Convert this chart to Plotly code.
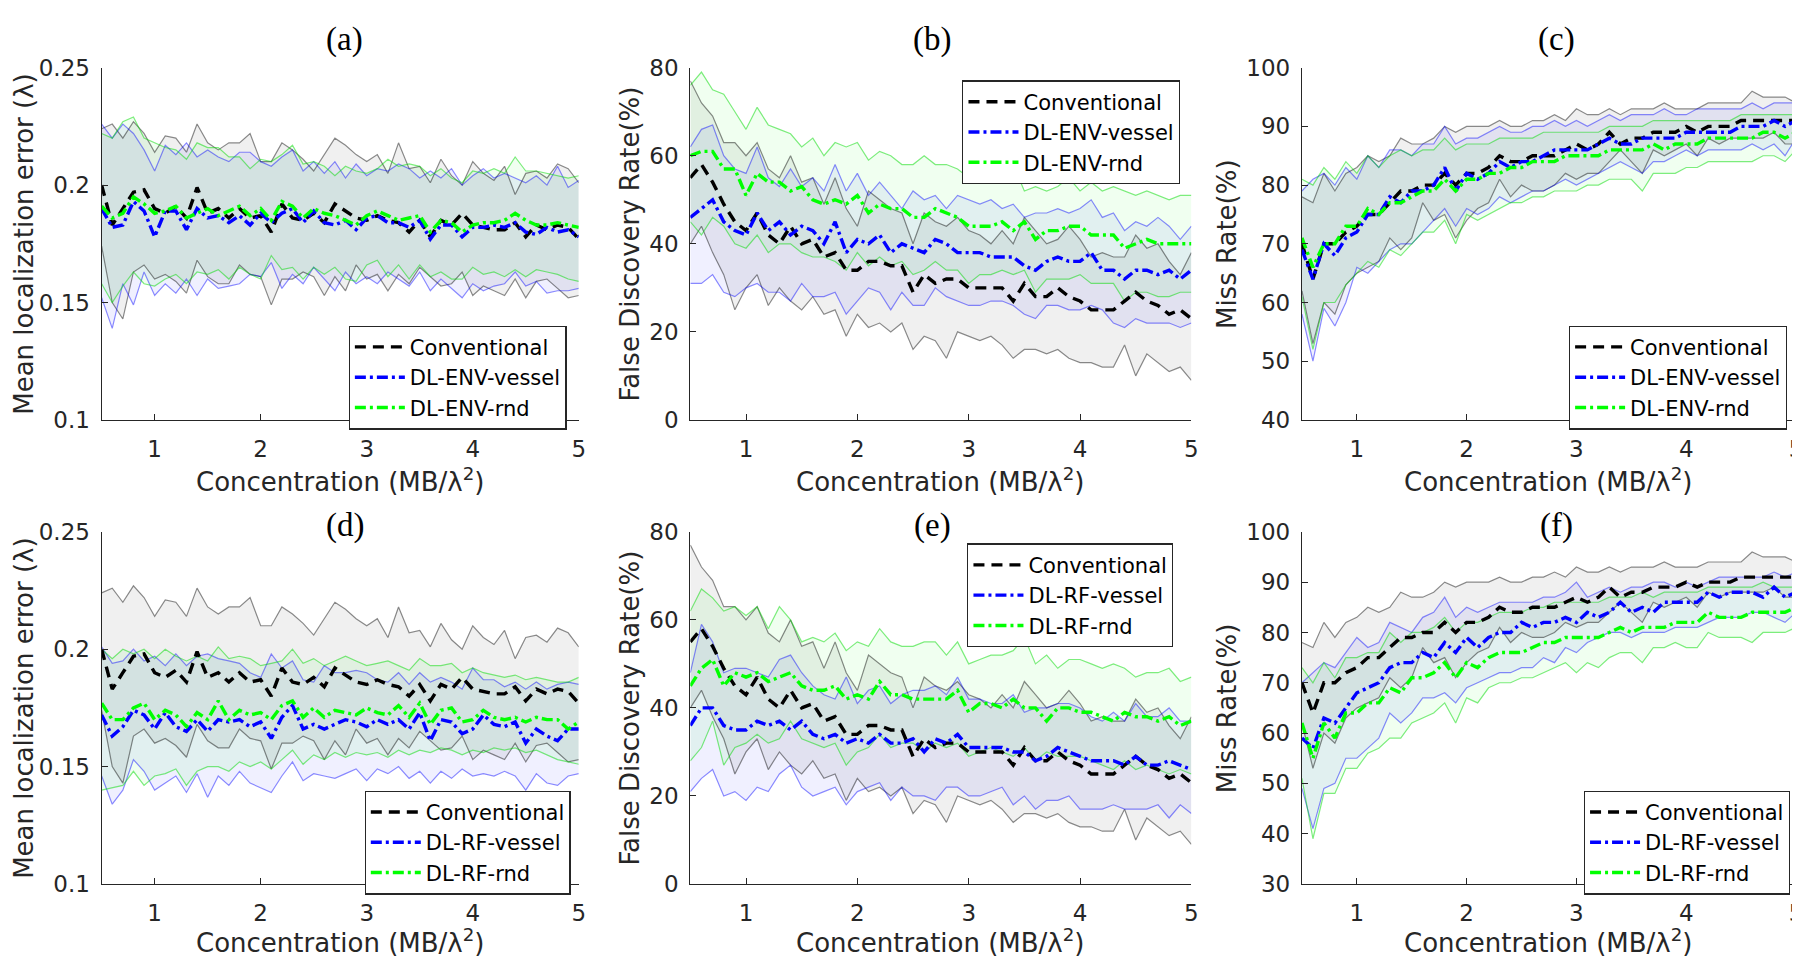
import plotly.graph_objects as go

# ---------------- data ----------------
conc = [0.5, 0.6, 0.7, 0.8, 0.9, 1.0, 1.1, 1.2, 1.3, 1.4,
        1.5, 1.6, 1.7, 1.8, 1.9, 2.0, 2.1, 2.2, 2.3, 2.4,
        2.5, 2.6, 2.7, 2.8, 2.9, 3.0, 3.1, 3.2, 3.3, 3.4,
        3.5, 3.6, 3.7, 3.8, 3.9, 4.0, 4.1, 4.2, 4.3, 4.4,
        4.5, 4.6, 4.7, 4.8, 4.9, 5.0]

# Mean localization error (lambda)
conv_loc_mean = [0.200, 0.183, 0.190, 0.197, 0.198, 0.190, 0.188, 0.191, 0.186, 0.199,
                 0.188, 0.190, 0.186, 0.190, 0.186, 0.187, 0.180, 0.192, 0.186, 0.185,
                 0.188, 0.184, 0.192, 0.189, 0.186, 0.185, 0.187, 0.185, 0.184, 0.180,
                 0.185, 0.178, 0.185, 0.183, 0.188, 0.183, 0.182, 0.181, 0.181, 0.184,
                 0.178, 0.183, 0.181, 0.183, 0.182, 0.177]
conv_loc_hi = [0.224, 0.226, 0.220, 0.227, 0.222, 0.214, 0.221, 0.220, 0.214, 0.226,
               0.218, 0.215, 0.218, 0.218, 0.222, 0.210, 0.210, 0.218, 0.215, 0.211,
               0.206, 0.213, 0.220, 0.217, 0.213, 0.210, 0.213, 0.205, 0.218, 0.207,
               0.208, 0.201, 0.211, 0.204, 0.200, 0.210, 0.205, 0.202, 0.208, 0.196,
               0.205, 0.206, 0.203, 0.209, 0.207, 0.201]
conv_loc_lo = [0.174, 0.150, 0.143, 0.163, 0.166, 0.160, 0.162, 0.159, 0.154, 0.168,
               0.161, 0.158, 0.158, 0.166, 0.162, 0.161, 0.149, 0.160, 0.160, 0.163,
               0.161, 0.153, 0.161, 0.155, 0.166, 0.160, 0.162, 0.155, 0.162, 0.158,
               0.165, 0.161, 0.157, 0.158, 0.163, 0.153, 0.157, 0.155, 0.153, 0.160,
               0.152, 0.159, 0.160, 0.156, 0.152, 0.153]
envv_loc_mean = [0.190, 0.182, 0.183, 0.193, 0.189, 0.178, 0.189, 0.189, 0.181, 0.190,
                 0.186, 0.187, 0.184, 0.187, 0.183, 0.188, 0.184, 0.188, 0.190, 0.184,
                 0.189, 0.184, 0.183, 0.185, 0.181, 0.186, 0.187, 0.184, 0.184, 0.182,
                 0.185, 0.177, 0.183, 0.183, 0.178, 0.182, 0.182, 0.183, 0.182, 0.184,
                 0.180, 0.179, 0.182, 0.180, 0.181, 0.178]
envv_loc_hi = [0.226, 0.220, 0.226, 0.222, 0.215, 0.206, 0.217, 0.213, 0.218, 0.212,
               0.215, 0.212, 0.210, 0.214, 0.214, 0.210, 0.208, 0.212, 0.215, 0.206,
               0.210, 0.205, 0.210, 0.203, 0.209, 0.204, 0.207, 0.206, 0.209, 0.207,
               0.203, 0.206, 0.203, 0.207, 0.200, 0.204, 0.207, 0.203, 0.205, 0.203,
               0.201, 0.204, 0.200, 0.208, 0.199, 0.202]
envv_loc_lo = [0.152, 0.139, 0.158, 0.149, 0.163, 0.153, 0.158, 0.154, 0.160, 0.153,
               0.160, 0.156, 0.157, 0.158, 0.162, 0.161, 0.167, 0.156, 0.162, 0.158,
               0.165, 0.160, 0.155, 0.163, 0.158, 0.161, 0.158, 0.163, 0.160, 0.157,
               0.163, 0.155, 0.160, 0.156, 0.152, 0.158, 0.155, 0.157, 0.158, 0.163,
               0.157, 0.159, 0.154, 0.155, 0.155, 0.156]
envr_loc_mean = [0.191, 0.186, 0.188, 0.195, 0.192, 0.188, 0.189, 0.191, 0.186, 0.188,
                 0.190, 0.187, 0.189, 0.191, 0.187, 0.190, 0.185, 0.193, 0.191, 0.186,
                 0.190, 0.188, 0.187, 0.185, 0.183, 0.187, 0.189, 0.187, 0.185, 0.186,
                 0.187, 0.180, 0.185, 0.184, 0.180, 0.183, 0.184, 0.184, 0.185, 0.188,
                 0.185, 0.183, 0.183, 0.184, 0.183, 0.182]
envr_loc_hi = [0.222, 0.220, 0.227, 0.229, 0.220, 0.218, 0.216, 0.215, 0.211, 0.218,
               0.216, 0.216, 0.212, 0.212, 0.207, 0.211, 0.210, 0.213, 0.217, 0.209,
               0.210, 0.208, 0.204, 0.208, 0.206, 0.205, 0.207, 0.211, 0.208, 0.209,
               0.208, 0.204, 0.207, 0.203, 0.201, 0.206, 0.205, 0.207, 0.205, 0.212,
               0.206, 0.206, 0.205, 0.204, 0.203, 0.204]
envr_loc_lo = [0.158, 0.150, 0.157, 0.163, 0.158, 0.157, 0.160, 0.162, 0.158, 0.163,
               0.162, 0.164, 0.160, 0.165, 0.162, 0.160, 0.170, 0.164, 0.165, 0.160,
               0.165, 0.162, 0.165, 0.160, 0.159, 0.166, 0.168, 0.161, 0.166, 0.160,
               0.166, 0.161, 0.163, 0.160, 0.160, 0.165, 0.162, 0.163, 0.161, 0.164,
               0.161, 0.164, 0.163, 0.162, 0.160, 0.159]
rfv_loc_mean = [0.172, 0.163, 0.167, 0.174, 0.172, 0.166, 0.173, 0.167, 0.165, 0.170,
                0.165, 0.170, 0.169, 0.170, 0.167, 0.169, 0.162, 0.171, 0.176, 0.166,
                0.168, 0.166, 0.168, 0.170, 0.169, 0.167, 0.170, 0.168, 0.170, 0.166,
                0.173, 0.161, 0.170, 0.169, 0.164, 0.166, 0.172, 0.168, 0.167, 0.169,
                0.160, 0.166, 0.163, 0.161, 0.166, 0.166]
rfv_loc_hi = [0.201, 0.194, 0.195, 0.200, 0.195, 0.197, 0.193, 0.198, 0.193, 0.197,
              0.198, 0.196, 0.195, 0.194, 0.190, 0.188, 0.198, 0.192, 0.195, 0.187,
              0.186, 0.193, 0.190, 0.190, 0.191, 0.190, 0.187, 0.186, 0.190, 0.185,
              0.190, 0.186, 0.188, 0.186, 0.183, 0.192, 0.187, 0.187, 0.184, 0.186,
              0.183, 0.186, 0.183, 0.185, 0.186, 0.185]
rfv_loc_lo = [0.146, 0.134, 0.140, 0.153, 0.148, 0.140, 0.143, 0.146, 0.139, 0.147,
              0.137, 0.146, 0.142, 0.148, 0.143, 0.141, 0.139, 0.146, 0.152, 0.144,
              0.147, 0.146, 0.145, 0.147, 0.149, 0.144, 0.149, 0.147, 0.150, 0.145,
              0.148, 0.143, 0.148, 0.145, 0.149, 0.146, 0.147, 0.146, 0.148, 0.146,
              0.140, 0.147, 0.143, 0.142, 0.146, 0.147]
rfr_loc_mean = [0.177, 0.170, 0.170, 0.175, 0.177, 0.170, 0.174, 0.172, 0.167, 0.173,
                0.170, 0.178, 0.170, 0.174, 0.172, 0.173, 0.170, 0.176, 0.178, 0.171,
                0.175, 0.171, 0.174, 0.173, 0.172, 0.175, 0.173, 0.172, 0.176, 0.171,
                0.177, 0.168, 0.174, 0.175, 0.169, 0.170, 0.174, 0.171, 0.170, 0.171,
                0.169, 0.171, 0.170, 0.170, 0.166, 0.169]
rfr_loc_hi = [0.200, 0.196, 0.200, 0.198, 0.200, 0.196, 0.200, 0.197, 0.195, 0.197,
              0.195, 0.201, 0.196, 0.197, 0.196, 0.193, 0.194, 0.195, 0.200, 0.194,
              0.196, 0.193, 0.195, 0.197, 0.195, 0.193, 0.194, 0.195, 0.193, 0.191,
              0.196, 0.193, 0.193, 0.194, 0.190, 0.192, 0.190, 0.189, 0.188, 0.189,
              0.187, 0.188, 0.187, 0.186, 0.186, 0.188]
rfr_loc_lo = [0.140, 0.141, 0.142, 0.148, 0.142, 0.146, 0.147, 0.149, 0.142, 0.148,
              0.150, 0.150, 0.148, 0.152, 0.150, 0.152, 0.149, 0.153, 0.157, 0.151,
              0.155, 0.153, 0.156, 0.154, 0.156, 0.155, 0.156, 0.154, 0.157, 0.155,
              0.157, 0.156, 0.158, 0.157, 0.155, 0.157, 0.156, 0.158, 0.157, 0.158,
              0.156, 0.157, 0.155, 0.153, 0.152, 0.151]

# False discovery rate (%)
conv_fdr_mean = [55, 58, 54, 49, 45, 43, 47, 42, 40, 44,
                 40, 41, 37, 38, 34, 34, 36, 36, 35, 35,
                 29, 33, 31, 32, 32, 30, 30, 30, 30, 27,
                 31, 28, 28, 30, 28, 27, 25, 25, 25, 27,
                 29, 27, 26, 24, 25, 23]
conv_fdr_hi = [77, 72, 69, 63, 63, 60, 63, 57, 55, 60,
               54, 55, 49, 55, 48, 44, 52, 50, 48, 47,
               40, 47, 45, 44, 46, 43, 42, 40, 43, 40,
               46, 43, 40, 41, 44, 41, 37, 38, 37, 37,
               42, 39, 40, 36, 33, 38]
conv_fdr_lo = [40, 44, 38, 33, 25, 30, 33, 26, 30, 27,
               25, 28, 24, 25, 19, 24, 21, 22, 20, 22,
               16, 19, 18, 14, 20, 19, 18, 19, 17, 14,
               16, 16, 15, 16, 14, 13, 13, 12, 12, 17,
               10, 15, 13, 11, 12, 9]
envv_fdr_mean = [46, 48, 50, 45, 43, 42, 47, 43, 45, 42,
                 44, 43, 40, 45, 38, 41, 40, 42, 38, 40,
                 39, 38, 41, 40, 38, 38, 38, 37, 37, 37,
                 35, 34, 36, 37, 36, 36, 38, 34, 34, 32,
                 34, 34, 33, 34, 32, 34]
envv_fdr_hi = [62, 66, 67, 60, 57, 56, 62, 55, 53, 57,
               53, 55, 52, 58, 52, 56, 51, 54, 51, 48,
               52, 50, 51, 48, 51, 50, 49, 50, 48, 49,
               46, 47, 47, 48, 47, 48, 50, 46, 47, 43,
               45, 44, 46, 44, 41, 44]
envv_fdr_lo = [31, 31, 33, 29, 28, 30, 31, 29, 29, 27,
               31, 28, 28, 29, 24, 27, 30, 29, 25, 29,
               26, 26, 30, 28, 27, 26, 26, 27, 27, 26,
               24, 23, 26, 26, 25, 25, 26, 25, 22, 21,
               23, 22, 22, 22, 21, 22]
envr_fdr_mean = [60, 61, 61, 57, 57, 51, 56, 54, 54, 52,
                 53, 50, 49, 50, 49, 51, 47, 49, 48, 48,
                 46, 46, 48, 47, 46, 44, 44, 44, 45, 43,
                 45, 41, 43, 43, 44, 44, 42, 42, 42, 39,
                 40, 41, 40, 40, 40, 40]
envr_fdr_hi = [76, 79, 75, 74, 70, 66, 71, 67, 66, 65,
               62, 64, 60, 63, 62, 63, 59, 61, 60, 58,
               58, 60, 58, 58, 57, 55, 55, 57, 56, 58,
               52, 53, 52, 53, 55, 52, 54, 52, 53, 52,
               51, 52, 51, 50, 51, 51]
envr_fdr_lo = [45, 42, 46, 44, 40, 39, 42, 38, 40, 40,
               38, 37, 37, 36, 34, 38, 35, 37, 35, 36,
               33, 34, 36, 34, 34, 31, 33, 33, 34, 33,
               34, 29, 32, 32, 32, 33, 31, 31, 31, 27,
               29, 29, 28, 28, 29, 29]
rfv_fdr_mean = [36, 40, 40, 36, 35, 35, 37, 36, 37, 35,
                37, 34, 33, 34, 32, 33, 32, 34, 32, 32,
                33, 30, 33, 32, 34, 31, 31, 31, 31, 30,
                30, 28, 29, 31, 30, 29, 28, 28, 28, 27,
                29, 27, 27, 28, 27, 26]
rfv_fdr_hi = [48, 59, 55, 48, 49, 49, 48, 47, 51, 52,
              48, 45, 43, 42, 47, 41, 44, 45, 41, 43,
              44, 44, 45, 43, 47, 42, 42, 41, 41, 43,
              39, 40, 40, 41, 41, 40, 38, 37, 39, 37,
              41, 38, 38, 40, 37, 37]
rfv_fdr_lo = [21, 24, 26, 20, 21, 19, 22, 21, 25, 27,
              22, 20, 21, 22, 18, 21, 22, 23, 19, 22,
              20, 20, 19, 22, 22, 20, 20, 21, 22, 18,
              20, 17, 19, 19, 20, 17, 17, 17, 18, 17,
              17, 17, 18, 15, 18, 16]
rfr_fdr_mean = [45, 49, 51, 45, 48, 47, 48, 46, 47, 48,
                45, 44, 44, 45, 42, 43, 42, 46, 43, 43,
                42, 42, 42, 42, 44, 39, 41, 41, 40, 42,
                40, 40, 37, 40, 40, 39, 39, 38, 37, 39,
                38, 38, 37, 38, 36, 37]
rfr_fdr_hi = [62, 67, 65, 62, 63, 61, 63, 58, 63, 60,
              55, 56, 55, 57, 53, 55, 54, 58, 55, 54,
              54, 55, 55, 52, 55, 50, 51, 52, 52, 53,
              56, 50, 52, 49, 51, 51, 50, 49, 50, 49,
              47, 48, 48, 49, 46, 47]
rfr_fdr_lo = [28, 31, 37, 27, 31, 32, 34, 32, 33, 37,
              33, 32, 31, 32, 27, 30, 31, 34, 31, 32,
              32, 30, 32, 31, 32, 29, 30, 31, 30, 29,
              31, 28, 30, 29, 29, 29, 28, 27, 26, 28,
              26, 27, 26, 25, 26, 25]

# Miss rate (%)
conv_mr_mean = [70, 64, 70, 70, 72, 73, 75, 75, 77, 79,
                79, 80, 80, 82, 80, 82, 82, 83, 85, 84,
                84, 85, 85, 85, 86, 87, 86, 87, 89, 87,
                88, 88, 89, 89, 89, 90, 89, 90, 90, 90,
                91, 91, 91, 91, 91, 91]
conv_mr_hi = [78, 77, 82, 79, 82, 83, 85, 84, 85, 88,
              87, 87, 88, 90, 89, 90, 90, 90, 91, 90,
              90, 91, 91, 92, 91, 93, 92, 92, 93, 92,
              93, 93, 93, 94, 93, 93, 93, 94, 94, 94,
              94, 96, 95, 95, 95, 94]
conv_mr_lo = [62, 53, 60, 58, 63, 65, 66, 67, 71, 69,
              71, 77, 74, 75, 71, 74, 76, 77, 81, 78,
              80, 79, 79, 80, 82, 81, 82, 82, 84, 86,
              84, 82, 86, 85, 86, 87, 85, 88, 87, 88,
              88, 88, 88, 89, 87, 87]
envv_mr_mean = [69, 64, 70, 68, 71, 72, 75, 75, 78, 77,
                79, 79, 80, 83, 79, 82, 81, 82, 84, 83,
                84, 84, 85, 86, 86, 86, 86, 87, 88, 87,
                87, 88, 88, 88, 88, 89, 89, 89, 89, 89,
                90, 90, 90, 91, 90, 91]
envv_mr_hi = [79, 81, 82, 80, 83, 81, 85, 83, 86, 86,
              85, 87, 87, 90, 87, 88, 88, 89, 90, 89,
              89, 90, 90, 91, 90, 91, 90, 91, 92, 91,
              92, 92, 92, 93, 92, 92, 93, 93, 93, 93,
              93, 94, 93, 94, 94, 94]
envv_mr_lo = [58, 50, 59, 56, 60, 66, 65, 67, 69, 70,
              70, 72, 74, 76, 73, 76, 75, 76, 78, 77,
              78, 79, 79, 80, 81, 80, 81, 82, 83, 84,
              83, 82, 84, 84, 85, 86, 85, 86, 86, 86,
              86, 87, 86, 87, 85, 88]
envr_mr_mean = [71, 66, 70, 70, 73, 73, 76, 75, 77, 77,
                78, 79, 79, 81, 79, 81, 81, 82, 82, 83,
                83, 84, 84, 84, 85, 85, 85, 85, 86, 86,
                86, 86, 87, 86, 87, 87, 87, 88, 88, 88,
                88, 88, 89, 89, 88, 89]
envr_mr_hi = [81, 80, 83, 81, 84, 82, 85, 83, 85, 86,
              85, 86, 86, 88, 86, 87, 87, 87, 88, 88,
              88, 88, 89, 89, 89, 89, 89, 89, 90, 90,
              90, 90, 91, 91, 91, 91, 91, 91, 91, 91,
              92, 92, 92, 92, 92, 92]
envr_mr_lo = [61, 52, 60, 60, 63, 65, 67, 66, 69, 68,
              70, 72, 72, 74, 70, 75, 74, 75, 76, 77,
              77, 78, 78, 79, 79, 79, 80, 80, 81, 81,
              81, 79, 82, 82, 82, 83, 83, 84, 84, 84,
              84, 84, 85, 85, 84, 86]
rfv_mr_mean = [59, 57, 63, 62, 65, 68, 69, 70, 73, 74,
               74, 76, 75, 78, 76, 79, 77, 79, 80, 80,
               82, 81, 82, 82, 83, 82, 84, 83, 84, 86,
               84, 85, 84, 86, 86, 86, 86, 88, 87, 88,
               88, 88, 87, 89, 87, 88]
rfv_mr_hi = [70, 72, 74, 73, 76, 79, 77, 78, 82, 81,
             80, 83, 84, 87, 83, 85, 84, 85, 86, 86,
             86, 86, 87, 87, 88, 90, 87, 88, 89, 88,
             89, 89, 90, 90, 89, 90, 89, 90, 91, 91,
             91, 91, 91, 92, 91, 92]
rfv_mr_lo = [49, 41, 49, 50, 55, 55, 57, 59, 64, 62,
             64, 67, 67, 68, 66, 69, 70, 71, 72, 72,
             73, 73, 75, 74, 77, 76, 78, 79, 80, 80,
             79, 80, 80, 80, 81, 81, 81, 82, 83, 83,
             83, 84, 84, 83, 82, 84]
rfr_mr_mean = [62, 55, 62, 59, 64, 64, 66, 66, 69, 68,
               71, 71, 72, 74, 71, 74, 73, 75, 76, 76,
               76, 77, 78, 78, 79, 79, 79, 79, 80, 81,
               80, 81, 81, 81, 82, 82, 82, 84, 83, 83,
               83, 84, 84, 84, 84, 85]
rfr_mr_hi = [73, 70, 74, 71, 75, 75, 76, 76, 80, 78,
             80, 80, 81, 83, 80, 82, 82, 83, 84, 84,
             84, 85, 85, 86, 86, 86, 86, 86, 87, 87,
             87, 88, 87, 88, 88, 88, 88, 89, 89, 89,
             89, 89, 90, 89, 89, 89]
rfr_mr_lo = [51, 39, 48, 48, 53, 53, 56, 57, 59, 59,
             62, 63, 64, 66, 62, 67, 66, 69, 70, 70,
             71, 71, 72, 73, 74, 72, 74, 73, 75, 76,
             76, 74, 77, 77, 78, 77, 77, 80, 79, 79,
             79, 78, 80, 80, 80, 81]

panel_letters = ["(a)", "(b)", "(c)", "(d)", "(e)", "(f)"]
y_titles = ["Mean localization error (λ)", "False Discovery Rate(%)", "Miss Rate(%)"]
x_title = "Concentration (MB/λ<sup>2</sup>)"
x_ticks = [1, 2, 3, 4, 5]
loc_ticks = [0.1, 0.15, 0.2, 0.25]
loc_ticktext = ["0.1", "0.15", "0.2", "0.25"]
fdr_ticks = [0, 20, 40, 60, 80]
mr_ticks_top = [40, 50, 60, 70, 80, 90, 100]
mr_ticks_bot = [30, 40, 50, 60, 70, 80, 90, 100]

# ---------------- layout helpers ----------------
W, H = 1800, 962
col_px = [(94, 573), (685, 1188), (1299, 1795)]
row_px = [(48, 410), (525, 887)]
ytitle_px = [16, 624, 1224]
letter_px = [338, 928, 1555]
letter_row_px = [19, 519]
xtitle_row_px = [472, 946]


def fx(p):
    return p / W


def fy(p):
    return 1 - p / H


STY = {
    "k": dict(line="#000000", dash="11px,7px", band="rgba(0,0,0,0.45)",
              fill="rgba(128,128,128,0.12)"),
    "b": dict(line="#0000ff", dash="11px,4px,3px,4px", band="rgba(0,0,255,0.45)",
              fill="rgba(0,0,255,0.06)"),
    "g": dict(line="#00ff00", dash="11px,4px,3px,4px", band="rgba(0,220,0,0.5)",
              fill="rgba(0,255,0,0.06)"),
}

panels = [
    dict(row=0, col=0, yr=[0.1, 0.25], yt=loc_ticks, ytt=loc_ticktext, leg=(342, 313),
         series=[("Conventional", conv_loc_mean, conv_loc_hi, conv_loc_lo, "k"),
                 ("DL-ENV-vessel", envv_loc_mean, envv_loc_hi, envv_loc_lo, "b"),
                 ("DL-ENV-rnd", envr_loc_mean, envr_loc_hi, envr_loc_lo, "g")]),
    dict(row=0, col=1, yr=[0, 80], yt=fdr_ticks, ytt=None, leg=(958, 61),
         series=[("Conventional", conv_fdr_mean, conv_fdr_hi, conv_fdr_lo, "k"),
                 ("DL-ENV-vessel", envv_fdr_mean, envv_fdr_hi, envv_fdr_lo, "b"),
                 ("DL-ENV-rnd", envr_fdr_mean, envr_fdr_hi, envr_fdr_lo, "g")]),
    dict(row=0, col=2, yr=[40, 100], yt=mr_ticks_top, ytt=None, leg=(1567, 313),
         series=[("Conventional", conv_mr_mean, conv_mr_hi, conv_mr_lo, "k"),
                 ("DL-ENV-vessel", envv_mr_mean, envv_mr_hi, envv_mr_lo, "b"),
                 ("DL-ENV-rnd", envr_mr_mean, envr_mr_hi, envr_mr_lo, "g")]),
    dict(row=1, col=0, yr=[0.1, 0.25], yt=loc_ticks, ytt=loc_ticktext, leg=(358, 791),
         series=[("Conventional", conv_loc_mean, conv_loc_hi, conv_loc_lo, "k"),
                 ("DL-RF-vessel", rfv_loc_mean, rfv_loc_hi, rfv_loc_lo, "b"),
                 ("DL-RF-rnd", rfr_loc_mean, rfr_loc_hi, rfr_loc_lo, "g")]),
    dict(row=1, col=1, yr=[0, 80], yt=fdr_ticks, ytt=None, leg=(963, 537),
         series=[("Conventional", conv_fdr_mean, conv_fdr_hi, conv_fdr_lo, "k"),
                 ("DL-RF-vessel", rfv_fdr_mean, rfv_fdr_hi, rfv_fdr_lo, "b"),
                 ("DL-RF-rnd", rfr_fdr_mean, rfr_fdr_hi, rfr_fdr_lo, "g")]),
    dict(row=1, col=2, yr=[30, 100], yt=mr_ticks_bot, ytt=None, leg=(1582, 791),
         series=[("Conventional", conv_mr_mean, conv_mr_hi, conv_mr_lo, "k"),
                 ("DL-RF-vessel", rfv_mr_mean, rfv_mr_hi, rfv_mr_lo, "b"),
                 ("DL-RF-rnd", rfr_mr_mean, rfr_mr_hi, rfr_mr_lo, "g")]),
]

fig = go.Figure()
AX_COLOR = "#262626"
TICK_FONT = dict(family="DejaVu Sans", size=23, color=AX_COLOR)
annotations = []
layout_upd = {}

for k, p in enumerate(panels):
    n = k + 1
    xa = "x" if n == 1 else f"x{n}"
    ya = "y" if n == 1 else f"y{n}"
    legname = "legend" if n == 1 else f"legend{n}"
    # shaded bands
    for name, m, hi, lo, c in p["series"]:
        fig.add_trace(go.Scatter(x=conc + conc[::-1], y=hi + lo[::-1], fill="toself",
                                 fillcolor=STY[c]["fill"], line=dict(width=0),
                                 mode="lines", hoverinfo="skip", showlegend=False,
                                 xaxis=xa, yaxis=ya))
    # band edge lines
    for name, m, hi, lo, c in p["series"]:
        for arr in (hi, lo):
            fig.add_trace(go.Scatter(x=conc, y=arr, mode="lines",
                                     line=dict(color=STY[c]["band"], width=1.2),
                                     hoverinfo="skip", showlegend=False,
                                     xaxis=xa, yaxis=ya))
    # mean lines
    for name, m, hi, lo, c in p["series"]:
        fig.add_trace(go.Scatter(x=conc, y=m, mode="lines", name=name,
                                 line=dict(color=STY[c]["line"], width=3.4, dash=STY[c]["dash"]),
                                 xaxis=xa, yaxis=ya, legend=legname))

    c0, c1 = col_px[p["col"]]
    r0, r1 = row_px[p["row"]]
    xkey = "xaxis" if n == 1 else f"xaxis{n}"
    ykey = "yaxis" if n == 1 else f"yaxis{n}"
    layout_upd[xkey] = dict(domain=[fx(c0), fx(c1)], anchor=ya, range=[0.5, 5],
                            tickvals=x_ticks, showline=True, linecolor=AX_COLOR, linewidth=1.2,
                            ticks="inside", ticklen=6, tickcolor=AX_COLOR, showgrid=False,
                            zeroline=False, tickfont=TICK_FONT, ticklabelstandoff=8)
    yd = dict(domain=[fy(r1), fy(r0)], anchor=xa, range=p["yr"], tickvals=p["yt"],
              showline=True, linecolor=AX_COLOR, linewidth=1.2, ticks="inside", ticklen=6,
              tickcolor=AX_COLOR, showgrid=False, zeroline=False, tickfont=TICK_FONT,
              ticklabelstandoff=6)
    if p["ytt"] is not None:
        yd["ticktext"] = p["ytt"]
    layout_upd[ykey] = yd

    lx, ly = p["leg"]
    layout_upd[legname] = dict(x=fx(lx), y=fy(ly), xanchor="left", yanchor="top",
                               bgcolor="white", bordercolor=AX_COLOR, borderwidth=1.2,
                               font=dict(family="DejaVu Sans", size=21, color="#000000"),
                               tracegroupgap=0, itemwidth=50)

    # panel letter
    annotations.append(dict(text=panel_letters[k], x=fx(letter_px[p["col"]]),
                            y=fy(letter_row_px[p["row"]]), xref="paper", yref="paper",
                            xanchor="center", yanchor="middle", showarrow=False,
                            font=dict(family="Liberation Serif", size=33, color="#000000")))
    # x title
    annotations.append(dict(text=x_title, x=fx((c0 + c1) / 2), y=fy(xtitle_row_px[p["row"]]),
                            xref="paper", yref="paper", xanchor="center", yanchor="middle",
                            showarrow=False,
                            font=dict(family="DejaVu Sans", size=26, color=AX_COLOR)))
    # y title
    annotations.append(dict(text=y_titles[p["col"]], x=fx(ytitle_px[p["col"]]),
                            y=fy((r0 + r1) / 2), xref="paper", yref="paper",
                            xanchor="center", yanchor="middle", textangle=-90,
                            showarrow=False,
                            font=dict(family="DejaVu Sans", size=26, color=AX_COLOR)))

fig.update_layout(width=W, height=H, margin=dict(l=0, r=0, t=0, b=0),
                  paper_bgcolor="white", plot_bgcolor="rgba(0,0,0,0)",
                  annotations=annotations, **layout_upd)

fig.write_html("out.html")
